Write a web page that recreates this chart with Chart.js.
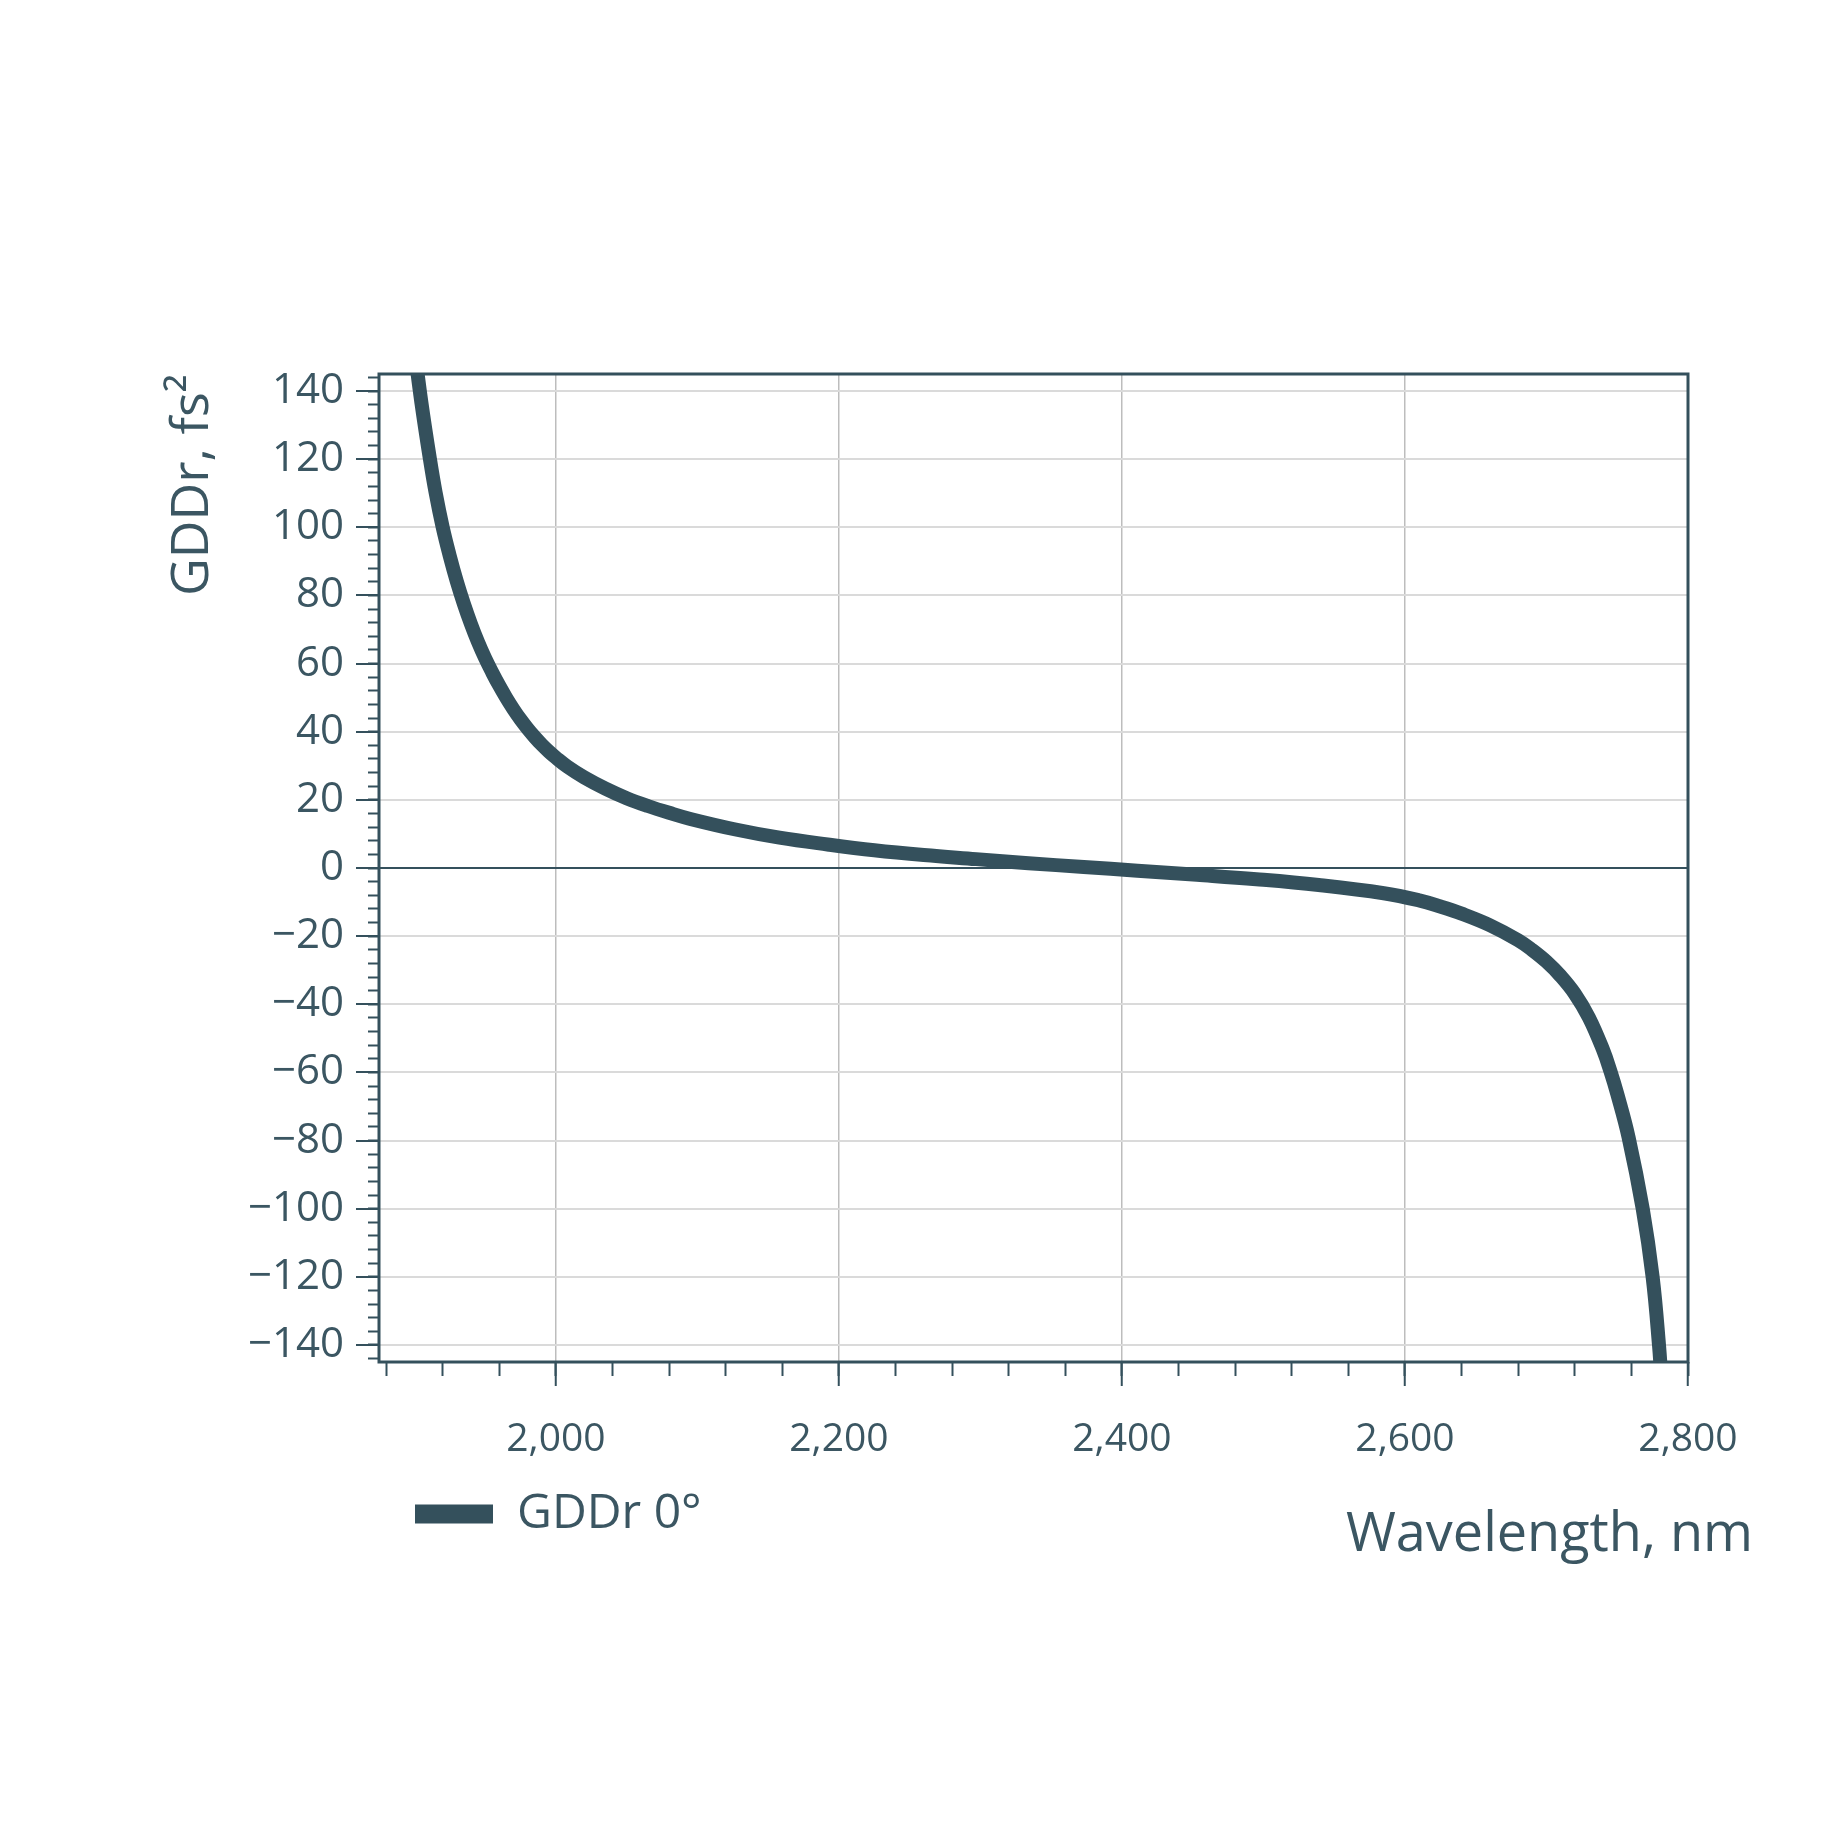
<!DOCTYPE html>
<html lang="en">
<head>
    <meta charset="UTF-8">
    <title>GDDr 0°</title>
    <script src="https://cdn.jsdelivr.net/npm/chart.js"></script>
    <style>
        body { margin: 0; background: #ffffff; }
        #wrap { width: 1848px; height: 1848px; }
    </style>
</head>
<body>
<div id="wrap"><canvas id="gddChart" width="1848" height="1848"></canvas></div>

<script>
    // values
    const wavelength = [1900, 1905, 1911, 1915, 1920, 1925, 1930, 1935, 1940, 1945, 1950, 1955,
        1960, 1965, 1970, 1975, 1980, 1985, 1990, 1995, 2000, 2008, 2020, 2035, 2050, 2065,
        2080, 2095, 2127, 2158, 2192, 2225, 2260, 2297, 2334, 2373, 2411, 2453, 2495, 2539,
        2585, 2610, 2625, 2640, 2660, 2680, 2690, 2700, 2710, 2720, 2730, 2740, 2745, 2750,
        2758, 2768, 2775, 2779.5, 2781.5];
    const gddr = [152.5, 136.5, 120, 110.2, 100, 91.6, 84.1, 77.5, 71.6, 66.3, 61.6, 57.4,
        53.5, 49.9, 46.6, 43.6, 40.9, 38.45, 36.2, 34.2, 32.4, 29.8, 26.6, 23.3, 20.5, 18.2,
        16.2, 14.4, 11.3, 8.9, 6.9, 5.2, 3.8, 2.6, 1.4, 0.3, -0.8, -2.0, -3.3, -5.0,
        -7.4, -9.5, -11.3, -13.4, -16.8, -21.2, -24.1, -27.5, -31.7, -36.9, -43.9, -53.4, -59.4, -66.3,
        -79, -100, -120, -140, -152];

    const xMajorTicks = [2000, 2200, 2400, 2600, 2800];
    const xMinorTicks = [];
    for (let v = 1880; v <= 2800; v += 40) xMinorTicks.push(v);
    const yMajorTicks = [];
    for (let v = -140; v <= 140; v += 20) yMajorTicks.push(v);
    const yMinorTicks = [];
    for (let v = -144; v <= 144; v += 4) yMinorTicks.push(v);

    const seriesLabel = 'GDDr 0°';
    const xTitle = 'Wavelength, nm';
    const yTitle = 'GDDr, fs²';

    const dark = '#34505c';
    const textCol = '#3b5662';
    const font = "'Open Sans', 'Noto Sans', sans-serif";

    const minus = v => v < 0 ? '\u2212' + Math.abs(v) : String(v);
    const thousands = v => v >= 1000 ? Math.floor(v / 1000) + ',' + String(v % 1000).padStart(3, '0') : String(v);

    // frame, axis titles, legend offset
    const extras = {
        id: 'extras',
        afterLayout(chart) {
            const lg = chart.legend;
            if (lg) { lg.left = 405; }
        },
        afterDraw(chart) {
            const ctx = chart.ctx, a = chart.chartArea;
            ctx.save();
            ctx.strokeStyle = dark;
            ctx.lineWidth = 3;
            ctx.strokeRect(a.left, a.top, a.right - a.left, a.bottom - a.top);

            ctx.fillStyle = textCol;
            ctx.font = '54px ' + font;
            ctx.textAlign = 'right';
            ctx.textBaseline = 'alphabetic';
            ctx.fillText(xTitle, 1753, 1551);

            ctx.translate(208, 596);
            ctx.rotate(-Math.PI / 2);
            ctx.font = '52px ' + font;
            ctx.textAlign = 'left';
            ctx.fillText(yTitle, 0, 0);
            ctx.restore();
        }
    };

    new Chart(document.getElementById('gddChart'), {
        type: 'line',
        data: {
            datasets: [{
                label: seriesLabel,
                data: wavelength.map((w, i) => ({ x: w, y: gddr[i] })),
                borderColor: dark,
                backgroundColor: dark,
                borderWidth: 14,
                borderJoinStyle: 'round',
                pointRadius: 0,
                tension: 0.4,
                fill: false
            }]
        },
        options: {
            responsive: false,
            devicePixelRatio: 1,
            animation: false,
            layout: { padding: { top: 374, right: 160, bottom: 300, left: 0 } },
            plugins: {
                tooltip: { enabled: false },
                legend: {
                    position: 'bottom',
                    align: 'start',
                    labels: {
                        boxWidth: 78,
                        boxHeight: 19,
                        padding: 10,
                        color: textCol,
                        font: { family: font, size: 48 },
                        generateLabels(chart) {
                            return Chart.defaults.plugins.legend.labels.generateLabels(chart)
                                .map(l => Object.assign(l, { lineWidth: 0, fillStyle: dark }));
                        }
                    }
                }
            },
            scales: {
                x: {
                    type: 'linear',
                    position: 'bottom',
                    weight: 1,
                    min: 1875,
                    max: 2800,
                    afterBuildTicks: s => { s.ticks = xMajorTicks.map(v => ({ value: v })); },
                    afterFit: s => { s.height = 118; },
                    border: { display: false },
                    grid: {
                        color: '#bdbdbd',
                        lineWidth: 1.5,
                        tickLength: 24,
                        tickColor: dark,
                        tickWidth: 2
                    },
                    ticks: {
                        autoSkip: false,
                        maxRotation: 0,
                        padding: 30,
                        color: textCol,
                        font: { family: font, size: 39 },
                        callback: v => thousands(v)
                    }
                },
                xMinor: {
                    type: 'linear',
                    position: 'bottom',
                    weight: 0,
                    min: 1875,
                    max: 2800,
                    afterBuildTicks: s => { s.ticks = xMinorTicks.map(v => ({ value: v })); },
                    afterFit: s => { s.height = 0; },
                    border: { display: false },
                    grid: { drawOnChartArea: false, tickLength: 14, tickColor: dark, tickWidth: 2 },
                    ticks: { display: false }
                },
                y: {
                    type: 'linear',
                    position: 'left',
                    weight: 1,
                    min: -145,
                    max: 145,
                    afterBuildTicks: s => { s.ticks = yMajorTicks.map(v => ({ value: v })); },
                    afterFit: s => { s.width = 379; },
                    border: { display: false },
                    grid: {
                        color: c => c.tick && c.tick.value === 0 ? dark : '#dadada',
                        lineWidth: 2,
                        tickLength: 23,
                        tickColor: dark,
                        tickWidth: 2
                    },
                    ticks: {
                        autoSkip: false,
                        padding: 12,
                        color: textCol,
                        font: { family: font, size: 42 },
                        callback: v => minus(v)
                    }
                },
                yMinor: {
                    type: 'linear',
                    position: 'left',
                    weight: 0,
                    min: -145,
                    max: 145,
                    afterBuildTicks: s => { s.ticks = yMinorTicks.map(v => ({ value: v })); },
                    afterFit: s => { s.width = 0; },
                    border: { display: false },
                    grid: { drawOnChartArea: false, tickLength: 11, tickColor: dark, tickWidth: 2 },
                    ticks: { display: false }
                }
            }
        },
        plugins: [extras]
    });
</script>
</body>
</html>
